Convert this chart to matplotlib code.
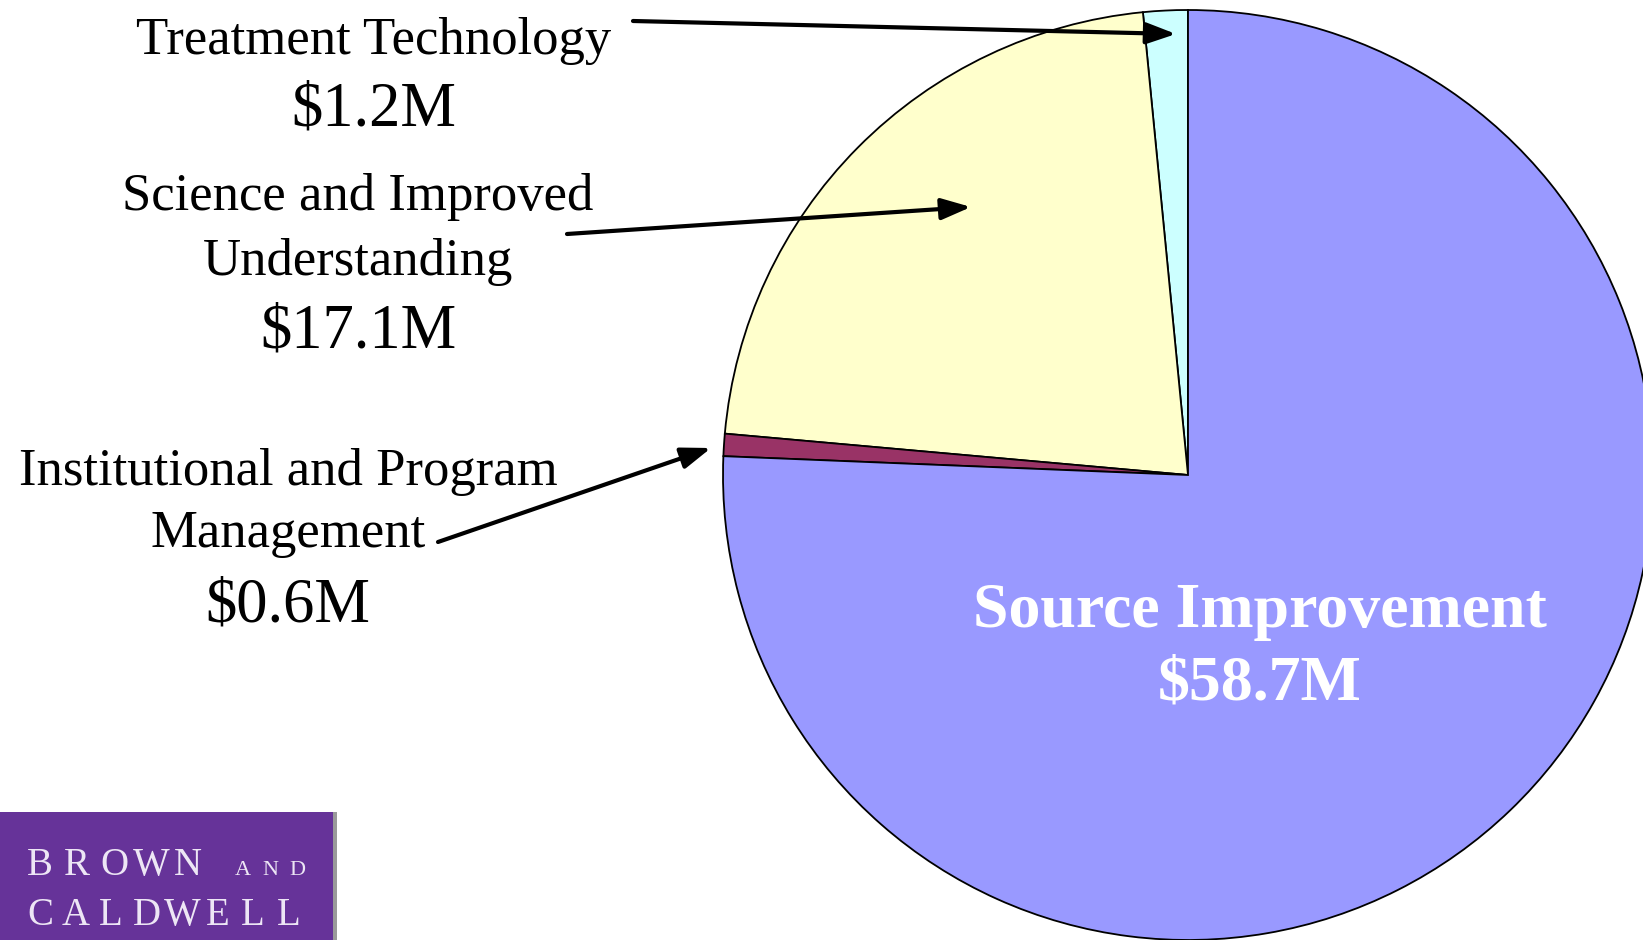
import matplotlib
matplotlib.use("Agg")
import matplotlib.pyplot as plt
from matplotlib.patches import Rectangle

# ---- data ----
categories = ["Treatment Technology", "Science and Improved\nUnderstanding",
              "Institutional and Program\nManagement", "Source Improvement"]
values = [1.2, 17.1, 0.6, 58.7]            # $M
value_labels = ["$1.2M", "$17.1M", "$0.6M", "$58.7M"]
colors = ["#CCFFFF", "#FFFFCC", "#993366", "#9999FF"]

W, H = 1643, 940
def Y(py):
    return H - py

plt.rcParams['font.family'] = ['Liberation Serif', 'DejaVu Serif']

fig = plt.figure(figsize=(W / 100, H / 100), dpi=100)
ax = fig.add_axes([0, 0, 1, 1])
ax.set_xlim(0, W)
ax.set_ylim(0, H)
ax.set_aspect('equal')
ax.axis('off')

cx, cy, r = 1188, Y(475), 465
ax.pie(values, colors=colors, startangle=90, counterclock=True,
       center=(cx, cy), radius=r, frame=True,
       wedgeprops=dict(edgecolor='black', linewidth=1.3))
ax.set_xlim(0, W)
ax.set_ylim(0, H)
ax.axis('off')

label_fs = 38
value_fs = 45

# Treatment Technology
ax.text(374, Y(54), categories[0], fontsize=label_fs, ha='center', va='baseline')
ax.text(374, Y(126), value_labels[0], fontsize=value_fs, ha='center', va='baseline')

# Science and Improved Understanding
l1, l2 = categories[1].split("\n")
ax.text(358, Y(210), l1, fontsize=label_fs, ha='center', va='baseline')
ax.text(358, Y(275), l2, fontsize=label_fs, ha='center', va='baseline')
ax.text(358, Y(348), value_labels[1], fontsize=value_fs, ha='center', va='baseline')

# Institutional and Program Management
l1, l2 = categories[2].split("\n")
ax.text(288, Y(485), l1, fontsize=label_fs, ha='center', va='baseline')
ax.text(288, Y(547), l2, fontsize=label_fs, ha='center', va='baseline')
ax.text(288, Y(621), value_labels[2], fontsize=value_fs, ha='center', va='baseline')

# Source Improvement (inside)
ax.text(1260, Y(627), categories[3], fontsize=46, fontweight='bold', color='white',
        ha='center', va='baseline')
ax.text(1260, Y(700), value_labels[3], fontsize=46, fontweight='bold', color='white',
        ha='center', va='baseline')

arrow_kw = dict(arrowstyle='-|>,head_length=1.8,head_width=0.65', color='black',
                lw=3, shrinkA=0, shrinkB=0)
ax.annotate('', xy=(1176, Y(34)), xytext=(633, Y(21)), arrowprops=arrow_kw)
ax.annotate('', xy=(971, Y(207)), xytext=(567, Y(234)), arrowprops=arrow_kw)
ax.annotate('', xy=(711, Y(448)), xytext=(438, Y(542)), arrowprops=arrow_kw)

# Logo
ax.add_patch(Rectangle((333, 0), 4, Y(812), facecolor='#9a9a9a', edgecolor='none', zorder=3))
ax.add_patch(Rectangle((0, 0), 333, Y(812), facecolor='#663399', edgecolor='none', zorder=4))
logo_col = '#EDE6F5'
for i, ch in enumerate("BROWN"):
    ax.text(40 + 37 * i, Y(875), ch, fontsize=28, color=logo_col, ha='center',
            va='baseline', zorder=5)
for i, ch in enumerate("AND"):
    ax.text(243 + 27 * i, Y(875), ch, fontsize=16, color=logo_col, ha='center',
            va='baseline', zorder=5)
for i, ch in enumerate("CALDWELL"):
    ax.text(40 + 35.5 * i, Y(925), ch, fontsize=28, color=logo_col, ha='center',
            va='baseline', zorder=5)

fig.savefig("out.png", dpi=100, facecolor='white')
